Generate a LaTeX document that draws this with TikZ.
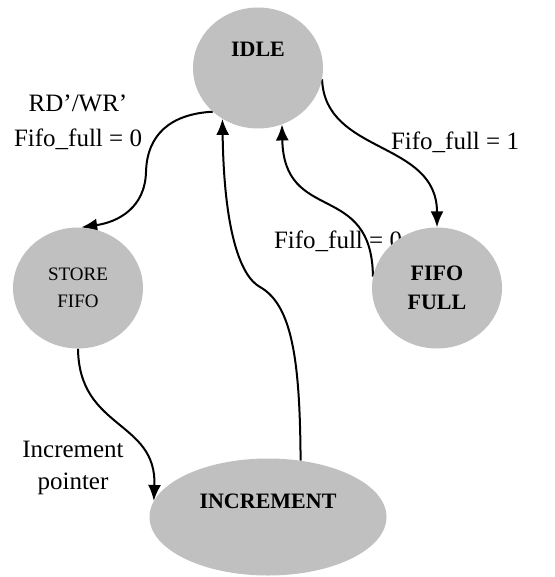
\documentclass[tikz,border=0pt]{standalone}
\usepackage{fontspec}
\setmainfont{Liberation Serif}
\usetikzlibrary{shapes.geometric,arrows.meta,backgrounds}
\definecolor{stategray}{RGB}{192,192,192}
\tikzset{state/.style = {shape=ellipse,fill=stategray,minimum width=130pt,minimum height=121pt,inner sep=0pt}}
\tikzset{trans/.style = {-{Latex[length=16pt,width=13pt]},line width=2pt}}
\tikzset{cond/.style = {font=\fontsize{25}{35}\selectfont,align=center,inner sep=0pt}}

\begin{document}
\begin{tikzpicture}[x=1pt,y=-1pt]
\useasboundingbox (0,0) rectangle (554,577);
% states
\node[state,font=\fontsize{22}{26}\selectfont\bfseries,text height=16pt,text depth=38pt] (idle) at (258,68) {IDLE};
\node[state,font=\fontsize{19}{27}\selectfont,align=center] (store) at (78,288) {STORE\\FIFO};
\node[state,font=\fontsize{22}{29}\selectfont\bfseries,align=center] (full) at (437,288) {FIFO\\FULL};
\node[state,minimum width=237pt,minimum height=117pt,font=\fontsize{22}{26}\selectfont\bfseries,text height=16pt,text depth=34pt] (incr) at (268,517) {INCREMENT};

%transitions
\begin{pgfonlayer}{background}
\draw[trans] (idle.224) .. controls (170,114) and (147,135) .. (146,172) .. controls (145,208) and (118,222) .. (store.87);
\draw[trans] (idle.350) .. controls (325,155) and (437,140) .. (full.north);
\draw[trans] (full.170) .. controls (372,180) and (284,225) .. (idle.293);
\draw[trans] (incr.60) .. controls (300,360) and (292,305) .. (260,287) .. controls (240,276) and (224,230) .. (idle.235);
\draw[trans] (store.south) .. controls (79,430) and (157,420) .. (incr.172);

% conditions
\node[cond] (rdwr) at (78,122) {RD'/WR'\\Fifo\_full = 0};
\node[cond,anchor=base] (setfull) at (455,150) {Fifo\_full = 1};
\node[cond,anchor=base] (clrfull) at (338,248) {Fifo\_full = 0};
\node[cond,font=\fontsize{25}{32}\selectfont] (incptr) at (73,468) {Increment\\pointer};
\end{pgfonlayer}
\end{tikzpicture}
\end{document}
